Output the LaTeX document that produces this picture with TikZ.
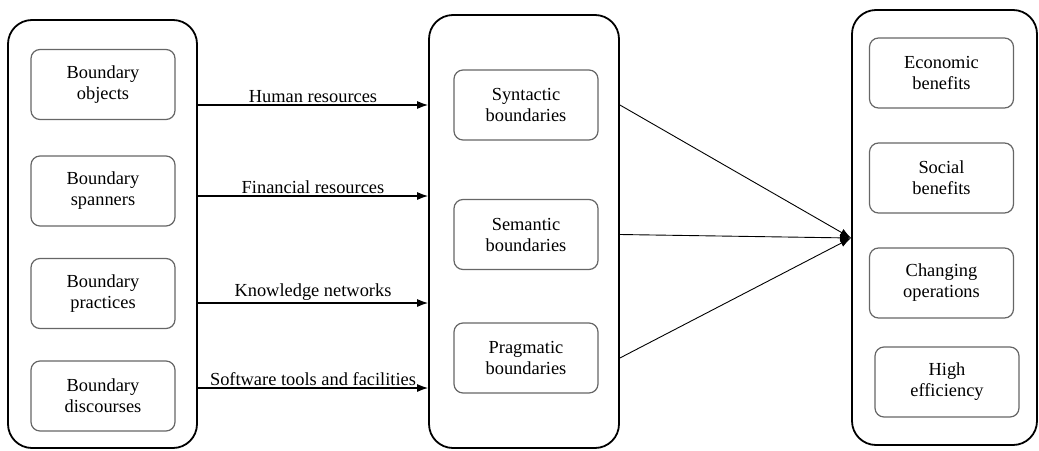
\documentclass[tikz,border=0pt]{standalone}
\usepackage{fontspec}
\setmainfont{Liberation Serif}
\usetikzlibrary{positioning,arrows.meta}

\begin{document}
\begin{tikzpicture}[x=1pt, y=-1pt, font=\rmfamily\fontsize{18.4}{21}\selectfont,
    frame/.style={draw, line width=1.8pt, rounded corners=24pt, inner sep=0pt},
    item/.style={draw=gray!80!black, line width=1.2pt, rounded corners=9pt, align=center,
                 minimum width=144pt, minimum height=70pt, inner sep=0pt},
    link/.style={-{Latex[length=11pt,width=8pt]}, line width=1.2pt},
    feed/.style={-{Latex[length=11pt,width=8pt]}, line width=0.9pt}]
  \useasboundingbox (0,0) rectangle (1039,450);

  % the three frames
  \node[frame, minimum width=189pt, minimum height=428pt] (lhs) at (102.5,234) {};
  \node[frame, minimum width=190pt, minimum height=433pt] (mid) at (524,231.5) {};
  \node[frame, minimum width=185pt, minimum height=435pt] (rhs) at (944.5,227.5) {};

  % left column
  \node[item] (obj) at (103,84.5) {Boundary\\objects};
  \node[item] (span) at (103,191) {Boundary\\spanners};
  \node[item] (prac) at (103,293.5) {Boundary\\practices};
  \node[item] (disc) at (103,396) {Boundary\\discourses};

  % middle column
  \node[item] (syn) at (526,105) {Syntactic\\boundaries};
  \node[item] (sem) at (526,234.5) {Semantic\\boundaries};
  \node[item] (prag) at (526,358) {Pragmatic\\boundaries};

  % right column
  \node[item] (econ) at (941.5,73) {Economic\\benefits};
  \node[item] (soc) at (941.5,178) {Social\\benefits};
  \node[item] (chg) at (941.5,283) {Changing\\operations};
  \node[item] (eff) at (947,382) {High\\efficiency};

  % resources
  \foreach \yy/\txt in {105/Human resources, 196/Financial resources,
                        303/Knowledge networks, 388/Software tools and facilities}
    \draw[link] (lhs.east |- 0,\yy) -- node[above, inner sep=2pt] {\txt} (mid.west |- 0,\yy);

  % boundaries to outcomes
  \coordinate (hub) at (rhs.west |- 0,238);
  \draw[feed] (mid.east |- syn) -- (hub);
  \draw[feed] (mid.east |- sem) -- (hub);
  \draw[feed] (mid.east |- prag) -- (hub);
\end{tikzpicture}
\end{document}
